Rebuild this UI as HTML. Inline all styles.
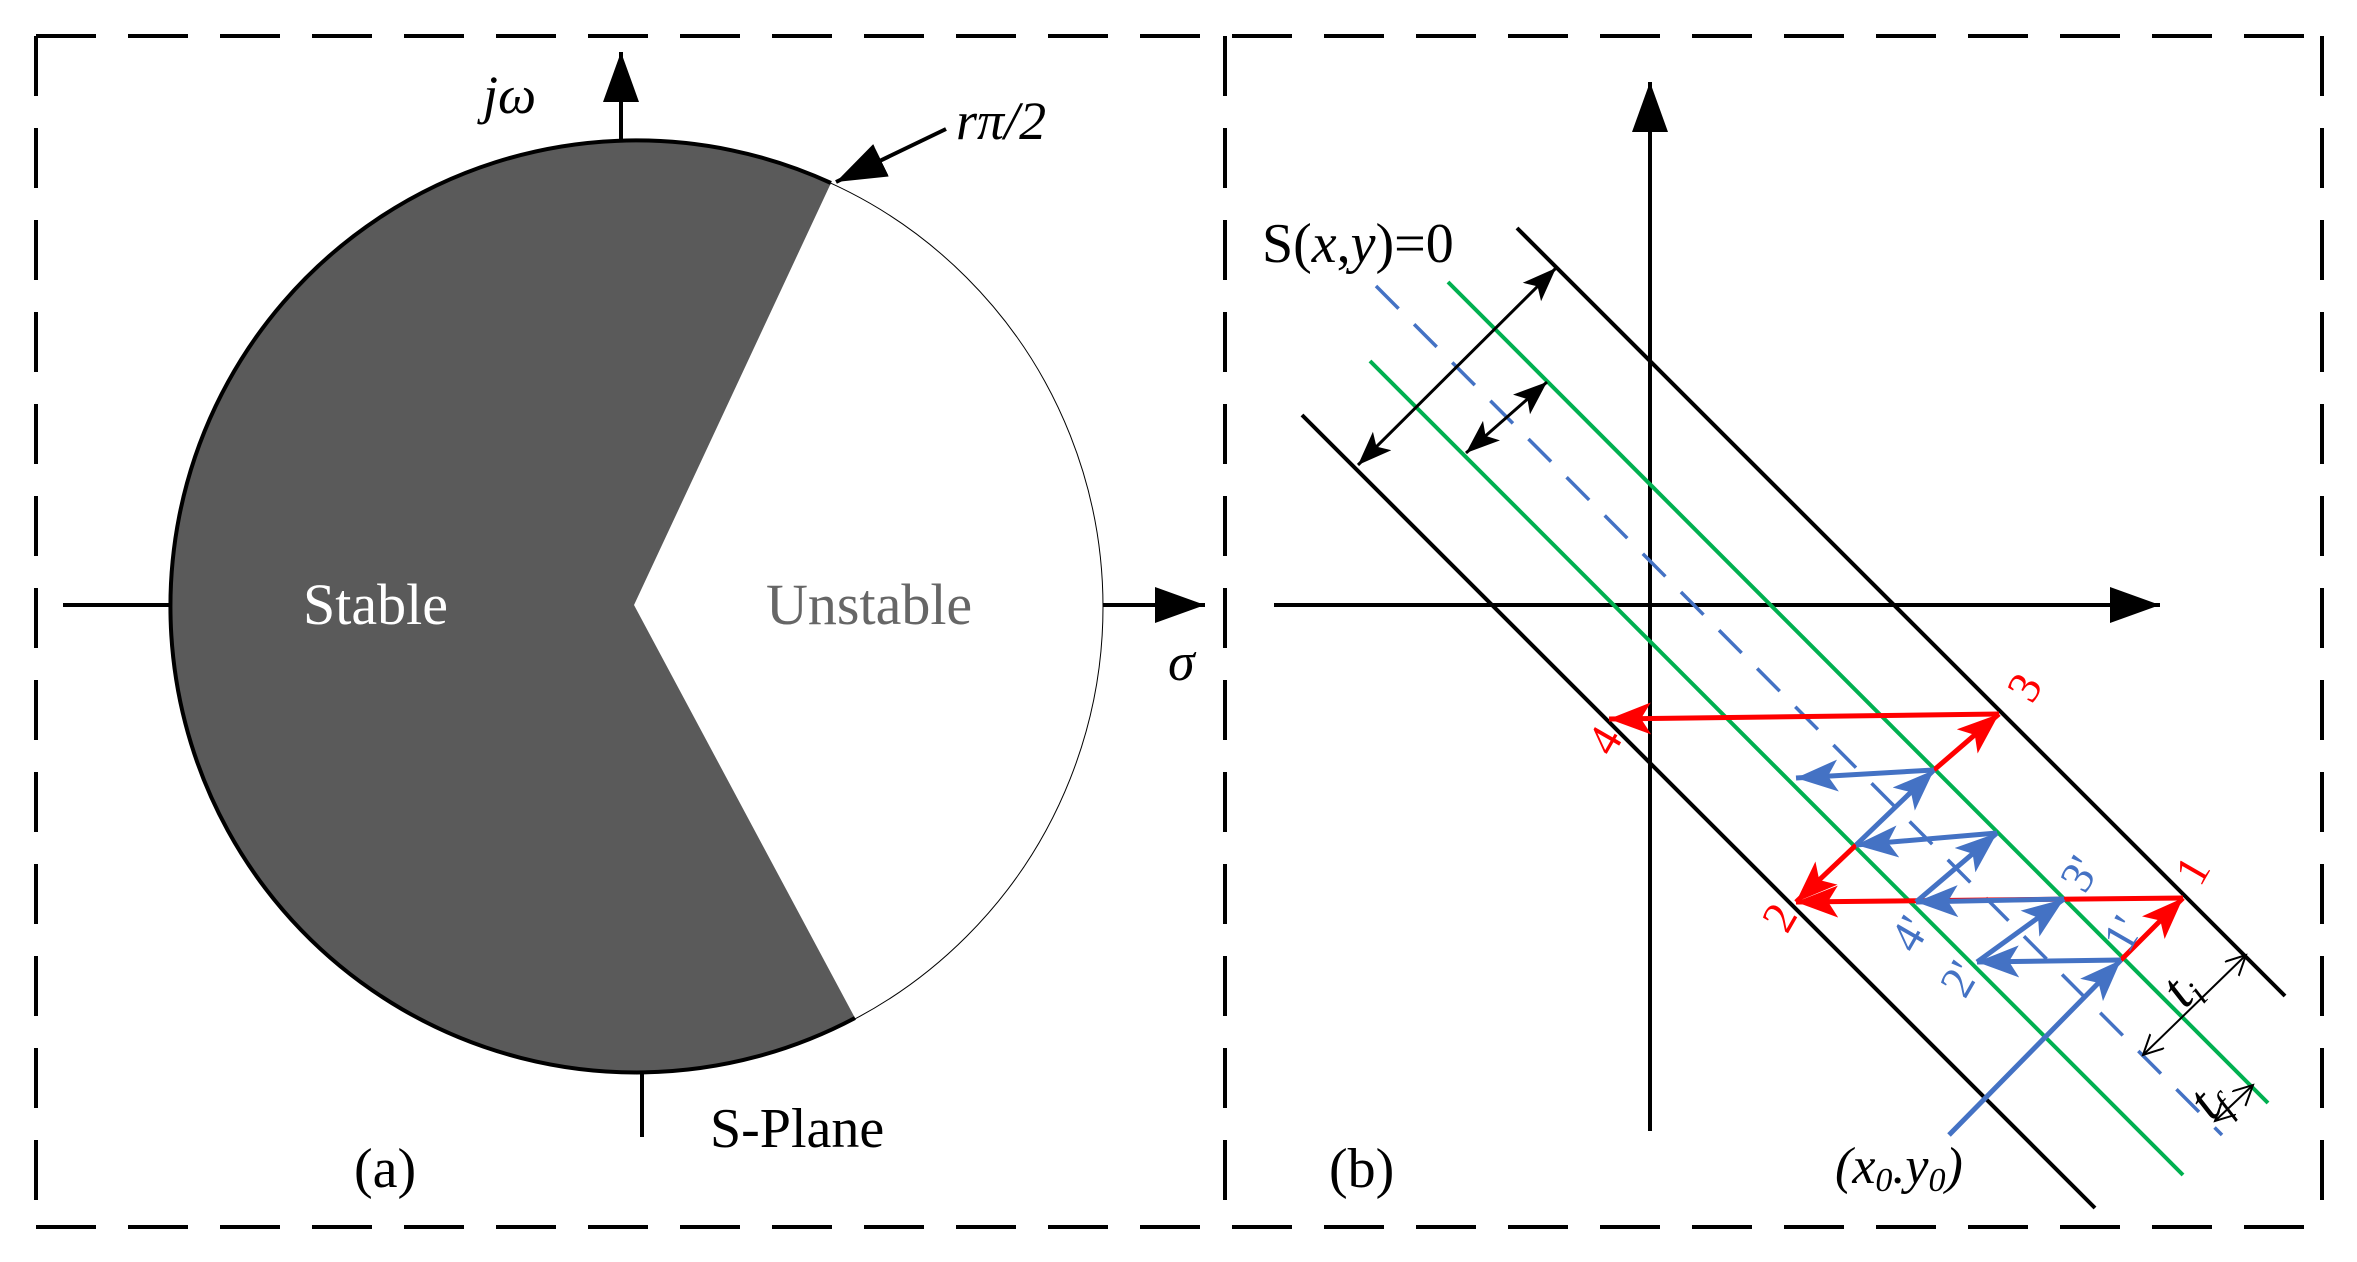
<!DOCTYPE html>
<html><head><meta charset="utf-8"><style>html,body{margin:0;padding:0;background:#fff}svg{display:block}</style></head>
<body>
<svg width="2357" height="1262" viewBox="0 0 2357 1262" xmlns="http://www.w3.org/2000/svg" font-family="Liberation Serif, serif">
<defs>
<marker id="ak" markerUnits="userSpaceOnUse" markerWidth="60" markerHeight="40" refX="50" refY="18" orient="auto"><path d="M0,0 L50,18 L0,36 Z" fill="#000"/></marker>
<marker id="akm" markerUnits="userSpaceOnUse" markerWidth="40" markerHeight="30" refX="34" refY="13" orient="auto-start-reverse"><path d="M0,0 L34,13 L0,26 L8,13 Z" fill="#000"/></marker>
<marker id="akt" markerUnits="userSpaceOnUse" markerWidth="30" markerHeight="30" refX="20" refY="10" orient="auto-start-reverse"><path d="M0,0 L20,10 L0,20" fill="none" stroke="#000" stroke-width="2"/></marker>
<marker id="ar" markerUnits="userSpaceOnUse" markerWidth="50" markerHeight="40" refX="42" refY="16" orient="auto"><path d="M0,0 L42,16 L0,32 L10,16 Z" fill="#f00"/></marker>
<marker id="ab" markerUnits="userSpaceOnUse" markerWidth="50" markerHeight="40" refX="42" refY="16" orient="auto"><path d="M0,0 L42,16 L0,32 L10,16 Z" fill="#4472c4"/></marker>
</defs>
<g fill="none" stroke="#000" stroke-width="4" stroke-dasharray="60,32">
<line x1="36" y1="36" x2="2322" y2="36"/>
<line x1="36" y1="1227" x2="2322" y2="1227"/>
<line x1="36" y1="36" x2="36" y2="1227"/>
<line x1="1225" y1="36" x2="1225" y2="1227"/>
<line x1="2322" y1="36" x2="2322" y2="1227"/>
</g>
<!-- left panel -->
<circle cx="637" cy="607" r="466" fill="#fff" stroke="#000" stroke-width="1"/>
<path d="M831,183 L634,605 L855,1018 A466,466 0 1 1 831,183 Z" fill="#5a5a5a"/>
<path d="M855,1018 A466,466 0 1 1 831,183" fill="none" stroke="#000" stroke-width="4"/>
<line x1="621" y1="141" x2="621" y2="52" stroke="#000" stroke-width="4" marker-end="url(#ak)"/>
<line x1="642" y1="1073" x2="642" y2="1137" stroke="#000" stroke-width="4"/>
<line x1="63" y1="605" x2="171" y2="605" stroke="#000" stroke-width="4"/>
<line x1="1103" y1="605" x2="1205" y2="605" stroke="#000" stroke-width="4" marker-end="url(#ak)"/>
<line x1="946" y1="129" x2="836" y2="182" stroke="#000" stroke-width="4" marker-end="url(#ak)"/>
<text x="483" y="113" font-size="54" font-style="italic">jω</text>
<text x="956" y="139" font-size="54" font-style="italic">rπ/2</text>
<text x="303" y="624" font-size="58" fill="#fff">Stable</text>
<text x="766" y="624" font-size="58" fill="#666">Unstable</text>
<text x="1168" y="680" font-size="54" font-style="italic">σ</text>
<text x="710" y="1147" font-size="56">S-Plane</text>
<text x="354" y="1187" font-size="56">(a)</text>
<!-- right panel -->
<line x1="1650" y1="1131" x2="1650" y2="82" stroke="#000" stroke-width="4" marker-end="url(#ak)"/>
<line x1="1274" y1="605" x2="2160" y2="605" stroke="#000" stroke-width="4" marker-end="url(#ak)"/>
<line x1="1517" y1="228" x2="2285" y2="996" stroke="#000" stroke-width="4"/>
<line x1="1302" y1="415" x2="2095" y2="1208" stroke="#000" stroke-width="4"/>
<line x1="1448" y1="282" x2="2268" y2="1103" stroke="#00b050" stroke-width="4"/>
<line x1="1370" y1="361" x2="2183" y2="1175" stroke="#00b050" stroke-width="4"/>
<line x1="1376" y1="286" x2="2222" y2="1135" stroke="#4472c4" stroke-width="3.5" stroke-dasharray="32,22"/>
<line x1="1358" y1="465" x2="1556" y2="268" stroke="#000" stroke-width="3" marker-start="url(#akm)" marker-end="url(#akm)"/>
<line x1="1466" y1="453" x2="1547" y2="382" stroke="#000" stroke-width="3" marker-start="url(#akm)" marker-end="url(#akm)"/>
<g stroke-width="5">
<line x1="1999" y1="714" x2="1609" y2="719" stroke="#f00" marker-end="url(#ar)"/>
<line x1="1934" y1="770" x2="1999" y2="714" stroke="#f00" marker-end="url(#ar)"/>
<line x1="1856" y1="845" x2="1796" y2="902" stroke="#f00" marker-end="url(#ar)"/>
<line x1="2183" y1="898" x2="1796" y2="902" stroke="#f00" marker-end="url(#ar)"/>
<line x1="2121" y1="960" x2="2183" y2="898" stroke="#f00" marker-end="url(#ar)"/>
<line x1="1934" y1="770" x2="1796" y2="778" stroke="#4472c4" marker-end="url(#ab)"/>
<line x1="1856" y1="845" x2="1934" y2="770" stroke="#4472c4" marker-end="url(#ab)"/>
<line x1="1997" y1="833" x2="1856" y2="845" stroke="#4472c4" marker-end="url(#ab)"/>
<line x1="1916" y1="902" x2="1997" y2="833" stroke="#4472c4" marker-end="url(#ab)"/>
<line x1="2064" y1="899" x2="1916" y2="902" stroke="#4472c4" marker-end="url(#ab)"/>
<line x1="1977" y1="962" x2="2064" y2="899" stroke="#4472c4" marker-end="url(#ab)"/>
<line x1="2121" y1="960" x2="1977" y2="962" stroke="#4472c4" marker-end="url(#ab)"/>
<line x1="1949" y1="1135" x2="2121" y2="960" stroke="#4472c4" marker-end="url(#ab)"/>
</g>
<line x1="2143" y1="1055" x2="2246" y2="955" stroke="#000" stroke-width="2" marker-start="url(#akt)" marker-end="url(#akt)"/>
<line x1="2215" y1="1121" x2="2253" y2="1085" stroke="#000" stroke-width="2" marker-start="url(#akt)" marker-end="url(#akt)"/>
<text x="1262" y="262" font-size="56">S(<tspan font-style="italic">x</tspan>,<tspan font-style="italic">y</tspan>)=0</text>
<g font-size="46" fill="#f00">
<text transform="translate(2032,705) rotate(-60)">3</text>
<text transform="translate(1612,758) rotate(-60)">4</text>
<text transform="translate(1787,935) rotate(-60)">2</text>
<text transform="translate(2200,888) rotate(-60)">1</text>
</g>
<g font-size="46" fill="#4472c4">
<text transform="translate(2085,895) rotate(-60)">3'</text>
<text transform="translate(1915,955) rotate(-60)">4'</text>
<text transform="translate(1965,1000) rotate(-60)">2'</text>
<text transform="translate(2128,955) rotate(-60)">1'</text>
</g>
<text transform="translate(2185,1010) rotate(-48)" font-size="56" font-style="italic">t<tspan font-size="36" dy="10">i</tspan></text>
<text transform="translate(2212,1122) rotate(-48)" font-size="56" font-style="italic">t<tspan font-size="36" dy="10">f</tspan></text>
<text x="1329" y="1187" font-size="56">(b)</text>
<text x="1835" y="1183" font-size="52" font-style="italic">(x<tspan font-size="34" dy="8">0</tspan><tspan dy="-8">.y</tspan><tspan font-size="34" dy="8">0</tspan><tspan dy="-8">)</tspan></text>
</svg>
</body></html>
